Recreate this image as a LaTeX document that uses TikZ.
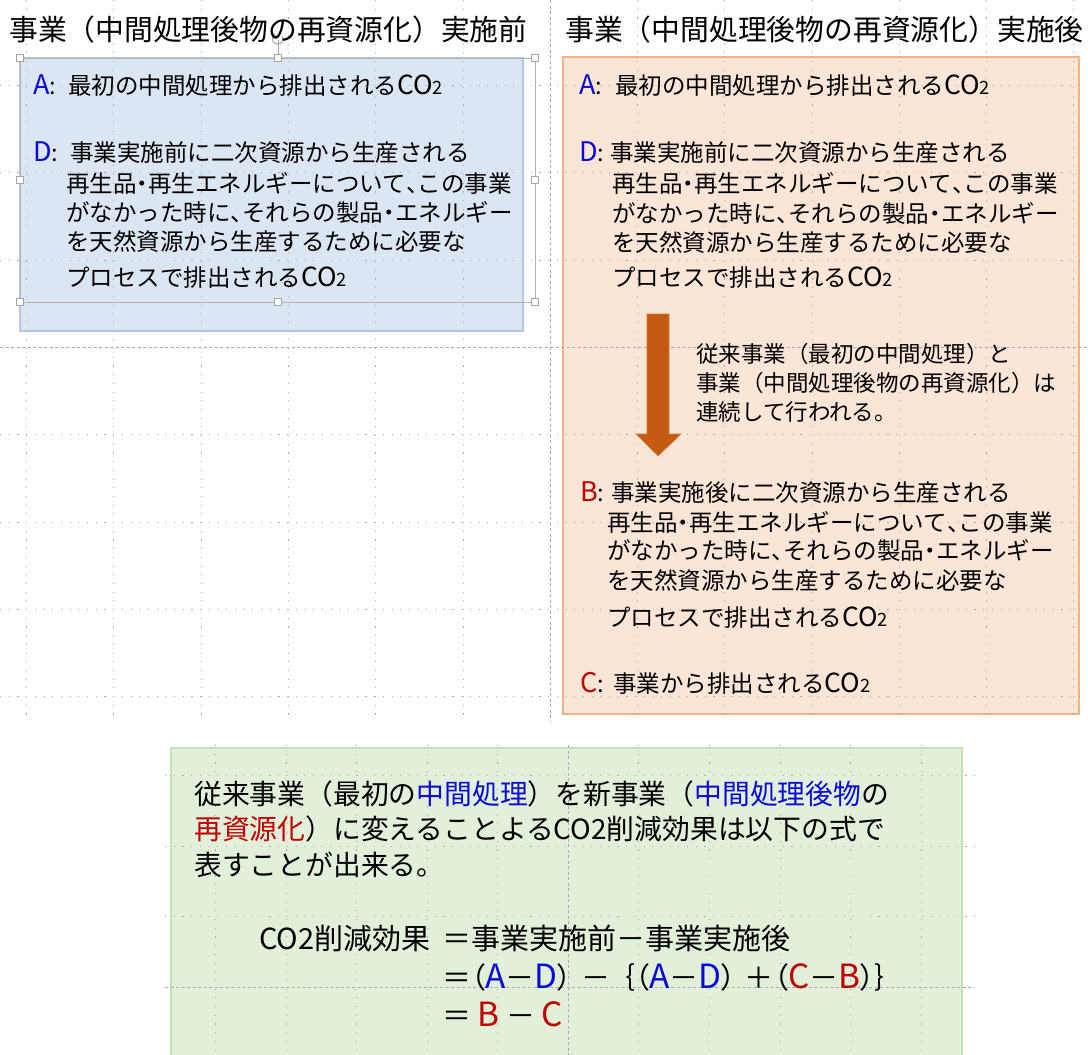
\documentclass[tikz,border=0pt]{standalone}
\usepackage{fontspec}
\setmainfont{Noto Sans CJK JP}
\newfontfamily\paltfont{Noto Sans CJK JP}[RawFeature=+palt]
\definecolor{blueL}{RGB}{10,10,215}
\definecolor{redL}{RGB}{192,0,0}
\definecolor{bfill}{RGB}{220,230,242}
\definecolor{bline}{RGB}{180,199,231}
\definecolor{ofill}{RGB}{251,229,214}
\definecolor{oline}{RGB}{244,177,131}
\definecolor{gfill}{RGB}{226,239,218}
\definecolor{gline}{RGB}{197,224,180}
\definecolor{arrowc}{RGB}{197,90,17}
\definecolor{gridc}{RGB}{170,170,170}
\newcommand\nakaguro{\makebox[0.5em][c]{・}}
\newcommand\touten{\makebox[0.5em][l]{、}}
\newcommand\cotwo{\scalebox{1.12}{CO}\scalebox{0.78}{2}}
\newcommand\lat[1]{\scalebox{1.15}{#1}}
\begin{document}
\begin{tikzpicture}[x=1pt,y=-1pt,
  txt/.style={anchor=base west,inner sep=0pt,font=\fontsize{23.5}{28}\selectfont},
  atxt/.style={anchor=base west,inner sep=0pt,font=\fontsize{22.5}{27}\selectfont},
  ttl/.style={anchor=base west,inner sep=0pt,font=\fontsize{28.8}{34}\selectfont},
  gtxt/.style={anchor=base west,inner sep=0pt,font=\fontsize{27.8}{33}\selectfont},
  ftxt/.style={anchor=base west,inner sep=0pt,font=\fontsize{29}{34}\selectfont},
  gridline/.style={draw=gridc,line width=0.8pt,dash pattern=on 1.1pt off 7.6pt},
  centerline/.style={draw=gridc,line width=0.8pt,dash pattern=on 3pt off 2.5pt},
  handle/.style={draw=gray!70,fill=white,line width=0.6pt,minimum size=7pt,inner sep=0pt}]
\useasboundingbox (0,0) rectangle (1088,1055);
\fill[white] (0,0) rectangle (1088,1055);
% boxes
\filldraw[fill=bfill,draw=bline,line width=1.2pt] (20,58) rectangle (523,331);
\filldraw[fill=ofill,draw=oline,line width=1.5pt] (563,57) rectangle (1079,714);
\fill[gfill] (171,748) rectangle (962,1055);
\draw[gline,line width=1.5pt] (171,1056) -- (171,748) -- (962,748) -- (962,1056);
% grid (top screenshot)
\foreach \x in {26,113,201,288,375,463,637,724,812,899,986,1073}
  \draw[gridline] (\x,0) -- (\x,722);
\foreach \y in {85,172,260,434,522,609,696}
  \draw[gridline] (0,\y) -- (1088,\y);
\draw[centerline] (550,0) -- (550,722);
\draw[centerline] (0,347) -- (1088,347);
% grid (bottom screenshot)
\foreach \x in {215,286,356,427,497,638,709,780,850,921}
  \draw[gridline] (\x,745) -- (\x,1055);
\foreach \y in {775,846,916}
  \draw[gridline] (165,\y) -- (975,\y);
\draw[centerline] (568,745) -- (568,1055);
\draw[centerline] (165,987) -- (975,987);
% arrow
\filldraw[fill=arrowc,draw=arrowc!80!white,line width=0.6pt]
  (647,314) -- (669,314) -- (669,434) -- (681,434) -- (658,456) -- (636,434) -- (647,434) -- cycle;
% selection frame and handles
\draw[gray!60,line width=0.5pt] (20,58) rectangle (535,302);
\draw[gray!70,line width=0.7pt] (278,40) -- (278,58);
\draw[gray!70,line width=1pt] (282.5,36) arc[start angle=-30,end angle=240,radius=5.5];
\foreach \p/\n in {{20,58}/h1,{278,58}/h2,{535,58}/h3,{20,180}/h4,{535,180}/h5,{20,302}/h6,{278,302}/h7,{535,302}/h8}
  \node[handle] (\n) at (\p) {};
% titles
\node[ttl] (t1) at (9,40) {事業（中間処理後物の再資源化）実施前};
\node[ttl] (t2) at (565,40) {事業（中間処理後物の再資源化）実施後};
% left box
\node[txt] (lAl) at (33,94) {{\color{blueL}\lat{A}}:};
\node[txt] (lA) at (68,94) {最初の中間処理から排出される\cotwo};
\node[txt] (lDl) at (33,161) {{\color{blueL}\lat{D}}:};
\node[txt] (lD1) at (70,161) {事業実施前に二次資源から生産される};
\node[txt] (lD2) at (66,192) {再生品\nakaguro{}再生エネルギーについて\touten{}この事業};
\node[txt] (lD3) at (66,221) {がなかった時に\touten{}それらの製品\nakaguro{}エネルギー};
\node[txt] (lD4) at (66,250) {を天然資源から生産するために必要な};
\node[txt] (lD5) at (66,286) {プロセスで排出される\cotwo};
% right box
\node[txt] (rAl) at (579,94) {{\color{blueL}\lat{A}}:};
\node[txt] (rA) at (615,94) {最初の中間処理から排出される\cotwo};
\node[txt] (rDl) at (579,161) {{\color{blueL}\lat{D}}:};
\node[txt] (rD1) at (610,161) {事業実施前に二次資源から生産される};
\node[txt] (rD2) at (612,192) {再生品\nakaguro{}再生エネルギーについて\touten{}この事業};
\node[txt] (rD3) at (612,222) {がなかった時に\touten{}それらの製品\nakaguro{}エネルギー};
\node[txt] (rD4) at (612,251) {を天然資源から生産するために必要な};
\node[txt] (rD5) at (612,286) {プロセスで排出される\cotwo};
\node[atxt] (m1) at (696,362) {従来事業（最初の中間処理）と};
\node[atxt] (m2) at (696,391) {事業（中間処理後物の再資源化）は};
\node[atxt] (m3) at (696,420) {連続して行われる。};
\node[txt] (rBl) at (580,501) {{\color{redL}\lat{B}}:};
\node[txt] (rB1) at (611,501) {事業実施後に二次資源から生産される};
\node[txt] (rB2) at (607,531) {再生品\nakaguro{}再生エネルギーについて\touten{}この事業};
\node[txt] (rB3) at (607,559) {がなかった時に\touten{}それらの製品\nakaguro{}エネルギー};
\node[txt] (rB4) at (607,589) {を天然資源から生産するために必要な};
\node[txt] (rB5) at (607,626) {プロセスで排出される\cotwo};
\node[txt] (rCl) at (580,692) {{\color{redL}\lat{C}}:};
\node[txt] (rC) at (613,692) {事業から排出される\cotwo};
% green box
\node[gtxt] (g1) at (194,804) {従来事業（最初の{\color{blueL}中間処理}）を新事業（{\color{blueL}中間処理後物}の};
\node[gtxt] (g2) at (194,839) {{\color{redL}再資源化}）に変えることよるCO2削減効果は以下の式で};
\node[gtxt] (g3) at (194,875) {表すことが出来る。};
\node[ftxt] (f0) at (259,949) {CO2削減効果};
\node[ftxt] (f1) at (442,949) {＝事業実施前－事業実施後};
\node[ftxt] (f2) at (442,988) {\paltfont ＝（{\color{blueL}\lat{A}}－{\color{blueL}\lat{D}}）\hspace{3pt} －\hspace{3pt} ｛（{\color{blueL}\lat{A}}－{\color{blueL}\lat{D}}）\hspace{2pt} ＋（{\color{redL}\lat{C}}－{\color{redL}\lat{B}}）｝};
\node[ftxt] (f3) at (442,1026) {＝ {\color{redL}\lat{B}} － {\color{redL}\lat{C}}};
\end{tikzpicture}
\end{document}
